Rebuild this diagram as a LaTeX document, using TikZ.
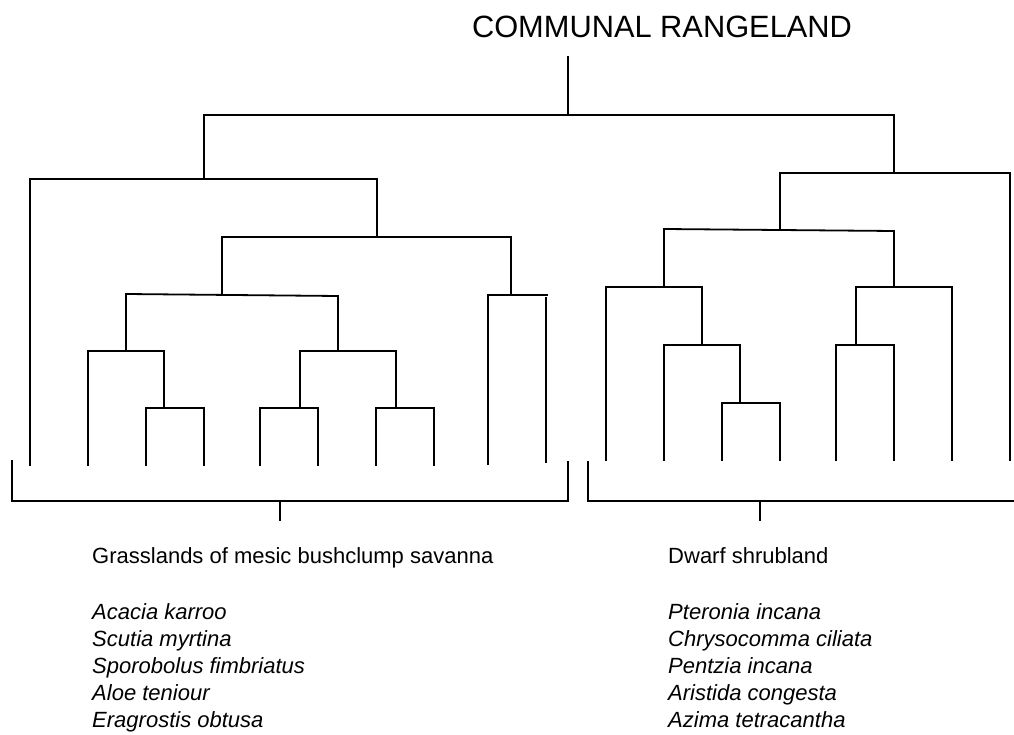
\documentclass[tikz,border=0pt]{standalone}
\usepackage{fontspec}
\setmainfont{Liberation Sans}
\begin{document}
\begin{tikzpicture}[x=1pt,y=-1pt,line width=1.8pt,
  thinline/.style={line width=1.2pt},
  head/.style={anchor=base west,font=\fontsize{22}{26}\selectfont},
  spec/.style={anchor=base west,font=\fontsize{22}{26}\selectfont\itshape}]
\useasboundingbox (0,0) rectangle (1014,735);
\pgfmathsetmacro{\yL}{466}
\pgfmathsetmacro{\yR}{461}
\node[anchor=base,font=\fontsize{30.8}{36}\selectfont] (title) at (662,38) {COMMUNAL RANGELAND};
\draw[thinline](568,56)--(568,115);
\draw(204,179)--(204,115)--(894,115)--(894,173);
%grasslands
\draw(30,\yL)--(30,179)--(377,179)--(377,237);
\draw(222,294)--(222,237)--(511,237)--(511,295);
\draw(126,351)--(126,294)--(338,296)--(338,351);
\draw(88,\yL)--(88,351)--(164,351)--(164,408);
\draw(146,\yL)--(146,408)--(204,408)--(204,\yL);
\draw(300,408)--(300,351)--(396,351)--(396,408);
\draw(260,\yL)--(260,408)--(318,408)--(318,\yL);
\draw(376,\yL)--(376,408)--(434,408)--(434,\yL);
\draw(488,465)--(488,295)--(548,295);
\draw(546,297)--(546,463);
%dwarf shrubland
\draw(780,230)--(780,173)--(1010,173)--(1010,\yR);
\draw(664,287)--(664,229)--(894,231)--(894,287);
\draw(606,\yR)--(606,287)--(702,287)--(702,345);
\draw(856,345)--(856,287)--(952,287)--(952,\yR);
\draw(664,\yR)--(664,345)--(740,345)--(740,403);
\draw(722,\yR)--(722,403)--(780,403)--(780,\yR);
\draw(836,\yR)--(836,345)--(894,345)--(894,\yR);
%brackets
\draw(12,460)--(12,501)--(568,501)--(568,461);
\draw[thinline](280,501)--(280,521);
\draw(588,461)--(588,501)--(1014,501);
\draw[thinline](760,501)--(760,521);
%labels
\node[head] (grass) at (88,563) {Grasslands of mesic bushclump savanna};
\node[head] (dwarf) at (664,563) {Dwarf shrubland};
\foreach \s [count=\i] in {Acacia karroo,Scutia myrtina,Sporobolus fimbriatus,Aloe teniour,Eragrostis obtusa}
  \node[spec] (gs\i) at (88,{619+27.2*(\i-1)}) {\s};
\foreach \s [count=\i] in {Pteronia incana,Chrysocomma ciliata,Pentzia incana,Aristida congesta,Azima tetracantha}
  \node[spec] (ds\i) at (664,{619+27.2*(\i-1)}) {\s};
\end{tikzpicture}
\end{document}
